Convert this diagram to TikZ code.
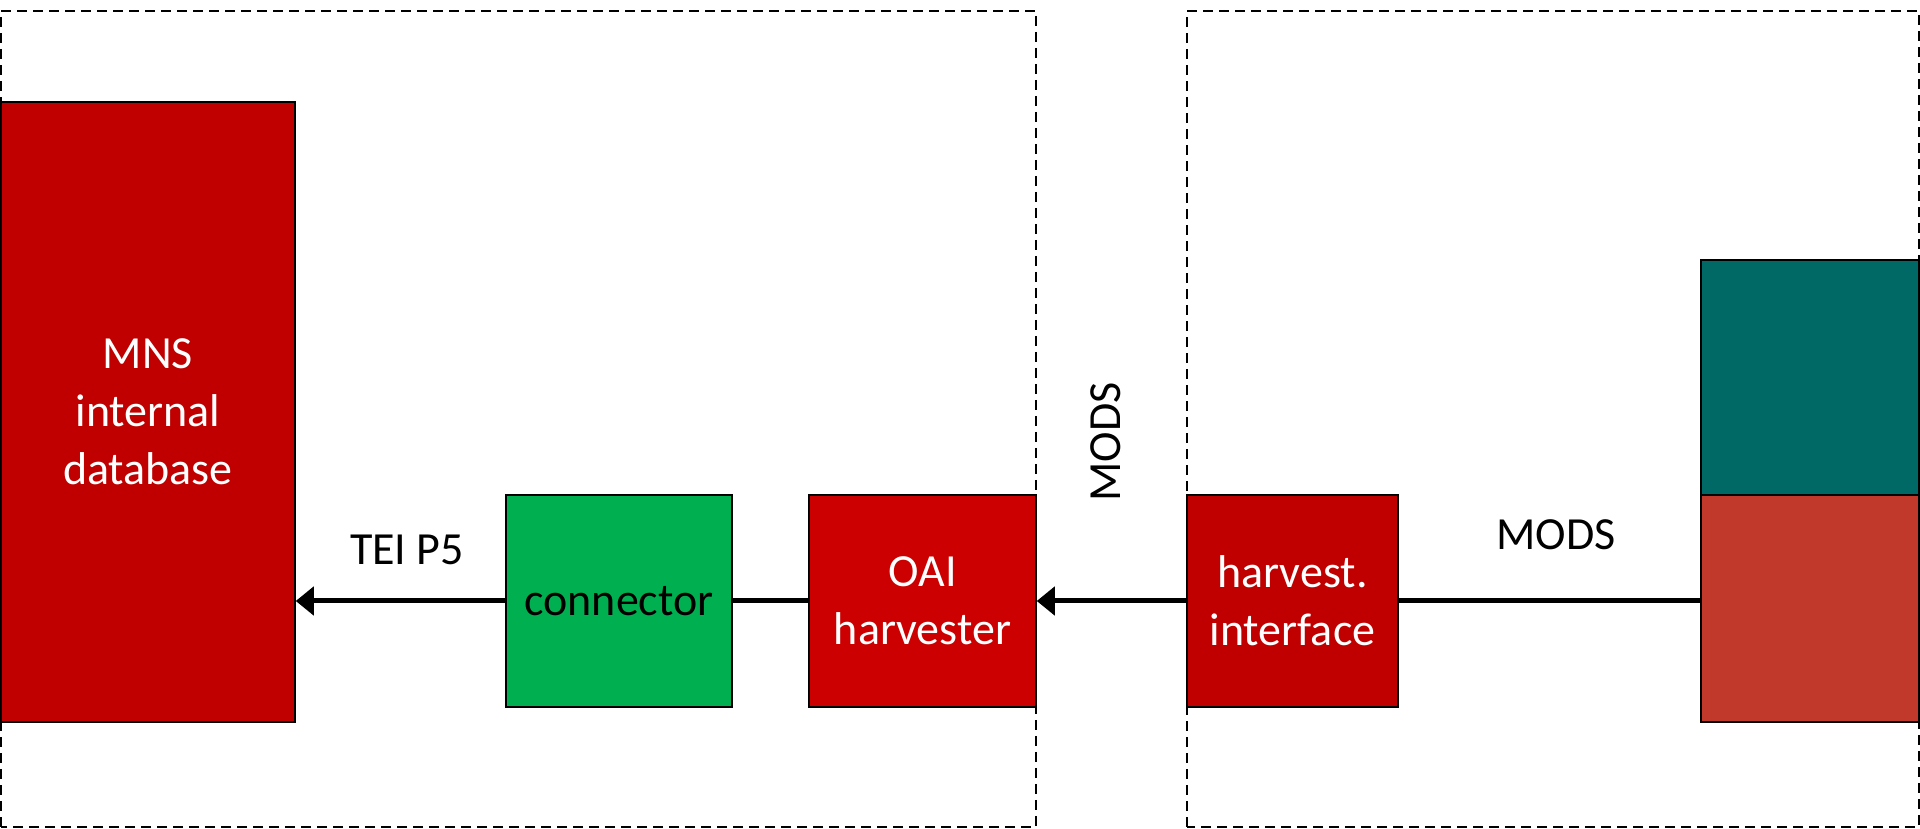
\documentclass[tikz,border=0pt]{standalone}
\usepackage{fontspec}
\setmainfont{Carlito}
\usetikzlibrary{arrows.meta}
\definecolor{dbred}{HTML}{C00000}
\definecolor{oaired}{HTML}{CC0000}
\definecolor{conngreen}{HTML}{00B050}
\definecolor{tealbox}{HTML}{006966}
\definecolor{brickbox}{HTML}{C0392B}
\tikzset{
  blockbox/.style={draw=black, line width=1.5pt, inner sep=0pt, align=center,
    font=\fontsize{46}{58}\selectfont},
  zone/.style={draw=black, line width=2pt, dash pattern=on 10pt off 6pt},
  flow/.style={line width=5pt, -{Triangle[length=18pt,width=28pt]}},
  plainflow/.style={line width=5pt},
  lbl/.style={font=\fontsize{46}{58}\selectfont, inner sep=0pt}
}
\begin{document}
\begin{tikzpicture}[x=1pt,y=1pt]
\useasboundingbox (0,0) rectangle (1920,829);
% nodes
\node[blockbox, fill=dbred, text=white, minimum width=294pt, minimum height=620pt] (mns) at (148,417) {MNS\\internal\\database};
\node[blockbox, fill=conngreen, text=black, minimum width=226pt, minimum height=212pt] (conn) at (619,228) {connector};
\node[blockbox, fill=oaired, text=white, minimum width=227pt, minimum height=212pt] (oai) at (922.5,228) {OAI\\harvester};
\node[blockbox, fill=dbred, text=white, minimum width=211pt, minimum height=212pt] (hif) at (1292.5,228) {harvest.\\interface};
\node[blockbox, fill=tealbox, minimum width=218pt, minimum height=235pt] (teal) at (1810,451.5) {};
\node[blockbox, fill=brickbox, minimum width=218pt, minimum height=227pt] (brick) at (1810,220.5) {};
% zones
\draw[zone] (1,2) rectangle (1036,818);
\draw[zone] (1187,2) rectangle (1919,818);
% connectors
\draw[flow] (conn.west) -- (mns.east |- conn.west);
\draw[plainflow] (oai.west) -- (conn.east);
\draw[flow] (hif.west) -- (oai.east);
\draw[plainflow] (hif.east) -- (hif.east -| brick.west);
% labels
\node[lbl, anchor=base] (tei) at (407,264) {TEI P5};
\node[lbl, anchor=base] (modsr) at (1556,279) {MODS};
\node[lbl, rotate=90] (modsv) at (1106,387) {MODS};
\end{tikzpicture}
\end{document}
